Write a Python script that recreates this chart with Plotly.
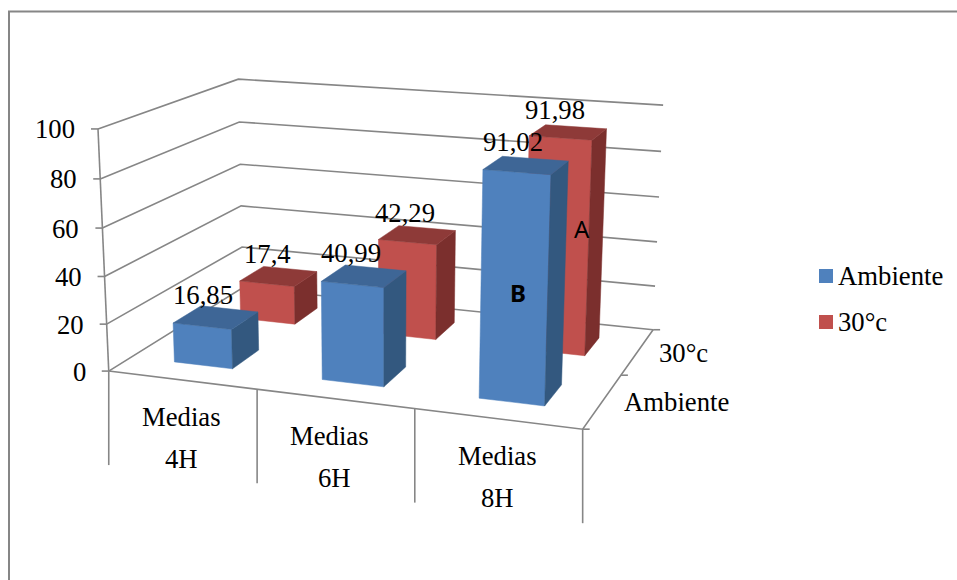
import numpy as np
import plotly.graph_objects as go

# Chart data
categories = ["Medias<br>4H", "Medias<br>6H", "Medias<br>8H"]
series_names = ["Ambiente", "30°c"]
ambiente = [16.85, 40.99, 91.02]
treinta = [17.4, 42.29, 91.98]
value_labels = [["16,85", "40,99", "91,02"], ["17,4", "42,29", "91,98"]]
value_ticks = [0, 20, 40, 60, 80, 100]

# Styling
FONT = "Liberation Serif"
TEXT_SIZE = 26.7
AXIS = "#868686"
FACES = [
    {"front": "#4F81BD", "top": "#3E6696", "side": "#33587F"},
    {"front": "#C0504D", "top": "#8E3A38", "side": "#7B2F2D"},
]
GAP = 0.3  # 150 % gap width and gap depth

# Perspective camera: box corners (category, series, value) and where they land on the page
box_world = np.array([
    (0, 0, 0), (3, 0, 0), (3, 2, 0), (0, 2, 0),
    (0, 0, 100), (3, 0, 100), (3, 2, 100), (0, 2, 100),
], dtype=float)
box_page = np.array([
    (108.5, 370), (583, 429.5), (653, 329), (243, 289),
    (98, 128), (591.5, 167), (663, 104), (238.5, 79.5),
], dtype=float)


def fit_camera(world, page):
    rows, rhs = [], []
    for (x, y, z), (u, v) in zip(world, page):
        rows.append([x, y, z, 1, 0, 0, 0, 0, -u * x, -u * y, -u * z])
        rhs.append(u)
        rows.append([0, 0, 0, 0, x, y, z, 1, -v * x, -v * y, -v * z])
        rhs.append(v)
    sol = np.linalg.lstsq(np.array(rows), np.array(rhs), rcond=None)[0]
    return np.append(sol, 1.0).reshape(3, 4)


CAM = fit_camera(box_world, box_page)


def project(x, y, z):
    u, v, w = CAM @ np.array([x, y, z, 1.0])
    return u / w, v / w


fig = go.Figure()


def polyline(points, color=AXIS, width=1.6):
    fig.add_trace(go.Scatter(
        x=[p[0] for p in points], y=[p[1] for p in points],
        mode="lines", line=dict(color=color, width=width),
        hoverinfo="skip", showlegend=False,
    ))


def face(points, color):
    pts = list(points) + [points[0]]
    fig.add_trace(go.Scatter(
        x=[p[0] for p in pts], y=[p[1] for p in pts],
        mode="lines", fill="toself", fillcolor=color,
        line=dict(color=color, width=0.5),
        hoverinfo="skip", showlegend=False,
    ))


def label(text, x, y, size=TEXT_SIZE, family=FONT, anchor="center", bold=False):
    fig.add_annotation(
        x=x, y=y, xref="x", yref="y", text=f"<b>{text}</b>" if bold else text,
        showarrow=False, xanchor=anchor, yanchor="middle", align="center",
        font=dict(family=family, size=size, color="black"),
    )


# Outer chart border (open at the right and bottom edges of the page)
polyline([(9, 585), (9, 11.5), (962, 11.5)], width=2)

# Gridlines on the side and back walls
for v in value_ticks:
    polyline([project(0, 0, v), project(0, 2, v), project(3, 2, v)])

# Axis lines and tick marks
polyline([project(0, 0, 0), project(0, 0, 100)])
polyline([project(0, 0, 0), project(3, 0, 0), project(3, 2, 0)])
for v in value_ticks:
    u, w = project(0, 0, v)
    polyline([(u - 7, w), (u, w)])
for i in range(len(categories) + 1):
    u, w = project(i, 0, 0)
    polyline([(u, w), (u, w + 94)])
for j in range(len(series_names) + 1):
    u, w = project(3, j, 0)
    polyline([(u, w), (u + 7, w)])

# Bars: rear series first so the front series overlaps it
for j, values in reversed(list(enumerate([ambiente, treinta]))):
    for i, val in enumerate(values):
        x0, x1 = i + GAP, i + 1 - GAP
        y0, y1 = j + GAP, j + 1 - GAP
        face([project(x0, y0, 0), project(x1, y0, 0), project(x1, y0, val), project(x0, y0, val)], FACES[j]["front"])
        face([project(x1, y0, 0), project(x1, y1, 0), project(x1, y1, val), project(x1, y0, val)], FACES[j]["side"])
        face([project(x0, y0, val), project(x1, y0, val), project(x1, y1, val), project(x0, y1, val)], FACES[j]["top"])

# Value labels, placed just above each bar's top face
label_shift = {
    (0, 0): (-13, -22), (0, 1): (-13, -23), (0, 2): (-13, -23),
    (1, 0): (-11, -22), (1, 1): (-12, -22), (1, 2): (-13, -22),
}
for j, values in enumerate([ambiente, treinta]):
    for i, val in enumerate(values):
        u, w = project(i + 0.5, j + 0.5, val)
        dx, dy = label_shift[(j, i)]
        label(value_labels[j][i], u + dx, w + dy)

# Value axis tick labels
for v in value_ticks:
    u, w = project(0, 0, v)
    label(str(v), u - 21, w + 0.5, anchor="right")

# Category labels between the long tick marks
category_nudge = [0, -5, 0]
for i, cat in enumerate(categories):
    u, w = project(i + 0.5, 0, 0)
    first, second = cat.split("<br>")
    label(first, u + category_nudge[i], w + 37)
    label(second, u, w + 79)

# Depth axis labels
depth_shift = [(74, 1), (45.5, 1)]
for j, name in enumerate(series_names):
    u, w = project(3, j + 0.5, 0)
    label(name, u + depth_shift[j][0], w + depth_shift[j][1])

# Key on the right
key_rows = [(276, FACES[0]["front"], series_names[0]), (322, FACES[1]["front"], series_names[1])]
for y, color, name in key_rows:
    fig.add_trace(go.Scatter(
        x=[826], y=[y], mode="markers",
        marker=dict(symbol="square", size=14, color=color, line=dict(width=0)),
        hoverinfo="skip", showlegend=False,
    ))
    label(name, 836, y, anchor="left")

# Bar annotations
label("A", 582, 228, size=24, family="Noto Sans")
label("B", 518, 292, size=24, family="Noto Sans", bold=True)

fig.update_layout(
    width=957, height=580,
    margin=dict(l=0, r=0, t=0, b=0),
    paper_bgcolor="white", plot_bgcolor="white",
    showlegend=False,
    xaxis=dict(range=[0, 957], visible=False, fixedrange=True),
    yaxis=dict(range=[580, 0], visible=False, fixedrange=True),
)
fig.write_html("out.html", config={"displayModeBar": False})
